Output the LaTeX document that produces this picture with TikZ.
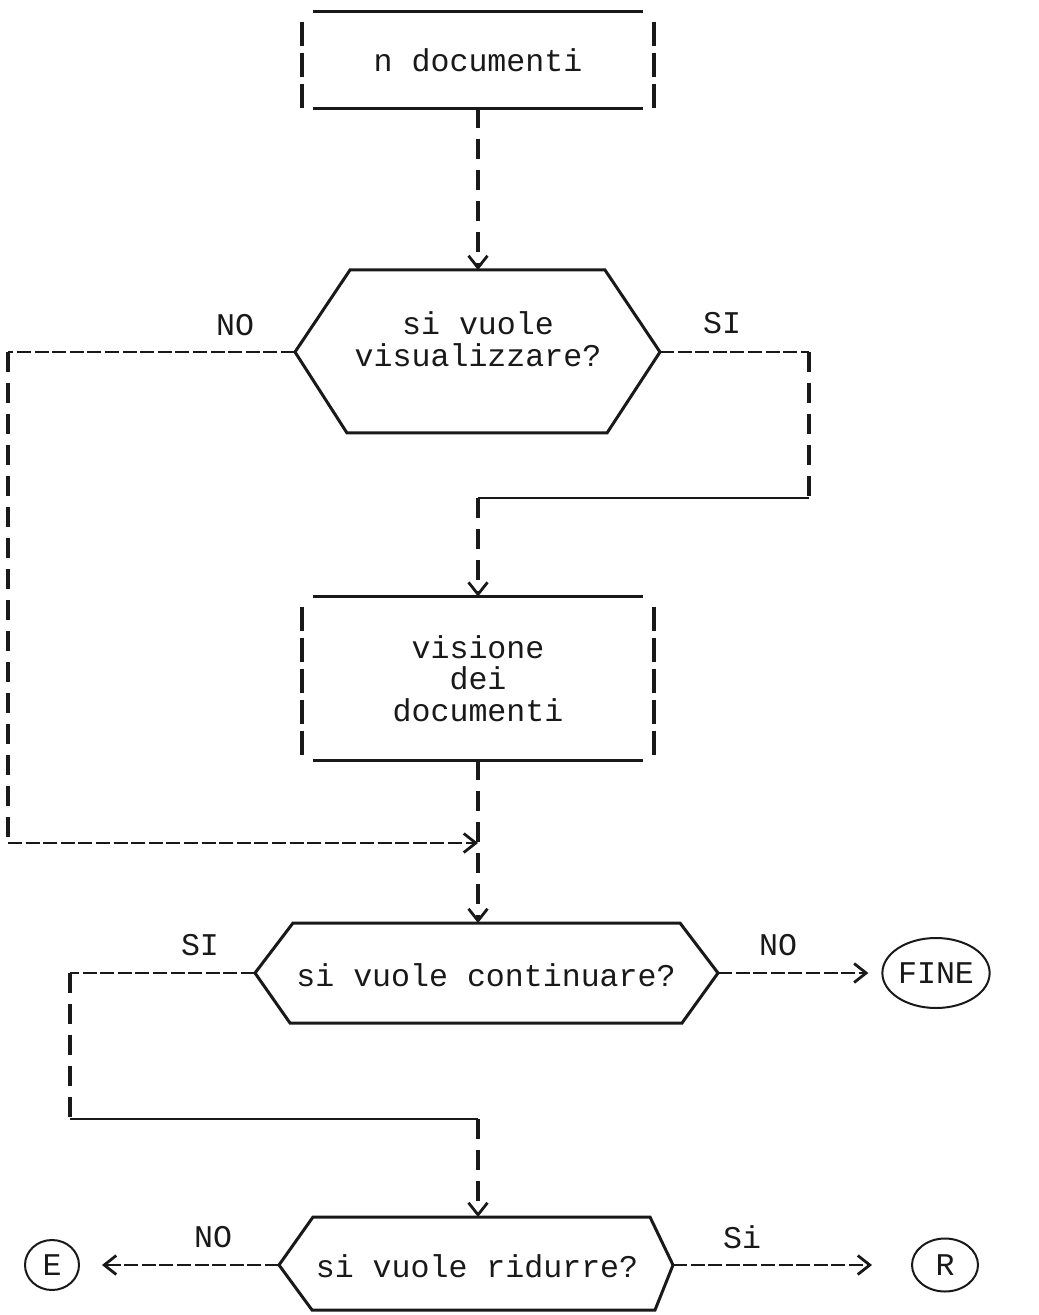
\documentclass[tikz,border=0pt]{standalone}
\usepackage{fontspec}
\setmonofont{Liberation Mono}
\usetikzlibrary{arrows.meta,shapes.geometric}
\begin{document}
\begin{tikzpicture}[x=0.5pt,y=-0.5pt,
  every node/.style={font=\ttfamily\fontsize{15.8}{15.8}\selectfont, inner sep=0pt, text=black!90},
  hline/.style={line width=1.4pt, draw=black!90},
  vline/.style={line width=1.7pt, draw=black!90, dash pattern=on 12pt off 3.5pt},
  slash/.style={line width=1.5pt, draw=black!90, line join=miter},
  conn/.style={line width=1.3pt, draw=black!90, dash pattern=on 7pt off 1.8pt},
  vconn/.style={line width=1.7pt, draw=black!90, dash pattern=on 10pt off 5.5pt},
  tip/.style={-{Straight Barb[length=6pt,width=9.5pt,line width=1.4pt]}},
  oval/.style={ellipse, draw=black!90, line width=1pt}
]
\useasboundingbox (0,0) rectangle (1038,1315);

% ---------- box 1
\node[minimum width=175.5pt, minimum height=48pt] (b1) at (478,60) {n documenti};
\draw[hline] ([xshift=5.5pt]b1.north west) -- ([xshift=-5.5pt]b1.north east);
\draw[hline] ([xshift=5.5pt]b1.south west) -- ([xshift=-5.5pt]b1.south east);
\draw[vline] ([yshift=-5pt]b1.north west) -- (b1.south west);
\draw[vline] ([yshift=-5pt]b1.north east) -- (b1.south east);

% ---------- hexagon 1
\coordinate (h1t)  at (478,270);
\coordinate (h1tl) at (350,270);
\coordinate (h1tr) at (605,270);
\coordinate (h1r)  at (660,352);
\coordinate (h1br) at (607,433);
\coordinate (h1bl) at (347,433);
\coordinate (h1l)  at (295,352);
\draw[slash] (h1l) -- (h1tl) -- (h1tr) -- (h1r) -- (h1br) -- (h1bl) -- cycle;
\node[align=center] (h1) at (478,339) {si vuole\\visualizzare?};
\node (no1) at (235,325) {NO};
\node (si1) at (722,323) {SI};

\draw[vconn,tip] (b1.south) -- (h1t);

% ---------- box 2
\node[minimum width=175.5pt, minimum height=81.5pt, align=center] (b2) at (478,678.5) {visione\\dei\\documenti};
\draw[hline] ([xshift=5.5pt]b2.north west) -- ([xshift=-5.5pt]b2.north east);
\draw[hline] ([xshift=5.5pt]b2.south west) -- ([xshift=-5.5pt]b2.south east);
\draw[vline] ([yshift=-5pt]b2.north west) -- (b2.south west);
\draw[vline] ([yshift=-5pt]b2.north east) -- (b2.south east);

% branches of hexagon 1
\coordinate (c1) at (8,352);
\coordinate (c2) at (8,843);
\coordinate (m1) at (478,843);
\draw[conn] (h1l) -- (c1);
\draw[vconn] (c1) -- (c2);
\draw[conn,tip] (c2) -- (m1);

\coordinate (c3) at (809,352);
\coordinate (c4) at (809,498);
\coordinate (c5) at (478,498);
\draw[conn] (h1r) -- (c3);
\draw[vconn] (c3) -- (c4);
\draw[hline] (c4) -- (c5);
\draw[vconn,tip] (c5) -- (b2.north);

% ---------- hexagon 2
\coordinate (h2t)  at (478,923);
\coordinate (h2tl) at (293,923);
\coordinate (h2tr) at (680,923);
\coordinate (h2r)  at (718,973);
\coordinate (h2br) at (682,1023);
\coordinate (h2bl) at (290,1023);
\coordinate (h2l)  at (255,973);
\draw[slash] (h2l) -- (h2tl) -- (h2tr) -- (h2r) -- (h2br) -- (h2bl) -- cycle;
\node (h2) at (486,975) {si vuole continuare?};
\node (si2) at (200,945) {SI};
\node (no2) at (778,945) {NO};

\draw[vconn,tip] (b2.south) -- (h2t);

\node[oval, minimum width=51pt, minimum height=35pt] (fine) at (936,973) {FINE};
\draw[conn,tip,shorten >=6.5pt] (h2r) -- (fine.west);

% ---------- hexagon 3
\coordinate (h3t)  at (478,1217);
\coordinate (h3tl) at (313,1217);
\coordinate (h3tr) at (650,1217);
\coordinate (h3r)  at (673,1265);
\coordinate (h3br) at (655,1310);
\coordinate (h3bl) at (312,1310);
\coordinate (h3l)  at (279,1265);
\draw[slash] (h3l) -- (h3tl) -- (h3tr) -- (h3r) -- (h3br) -- (h3bl) -- cycle;
\node (h3) at (477,1266) {si vuole ridurre?};
\node (no3) at (213,1237) {NO};
\node (si3) at (742,1237) {Si};

\coordinate (c6) at (70,973);
\coordinate (c7) at (70,1119);
\coordinate (c8) at (478,1119);
\draw[conn] (h2l) -- (c6);
\draw[vconn] (c6) -- (c7);
\draw[hline] (c7) -- (c8);
\draw[vconn,tip] (c8) -- (h3t);

\node[oval, minimum width=27pt, minimum height=25pt] (e) at (52,1265) {E};
\node[oval, minimum width=33pt, minimum height=26.5pt] (r) at (945,1265) {R};
\draw[conn,tip,shorten >=11pt] (h3l) -- (e.east);
\draw[conn,tip,shorten >=19.5pt] (h3r) -- (r.west);

\end{tikzpicture}
\end{document}
